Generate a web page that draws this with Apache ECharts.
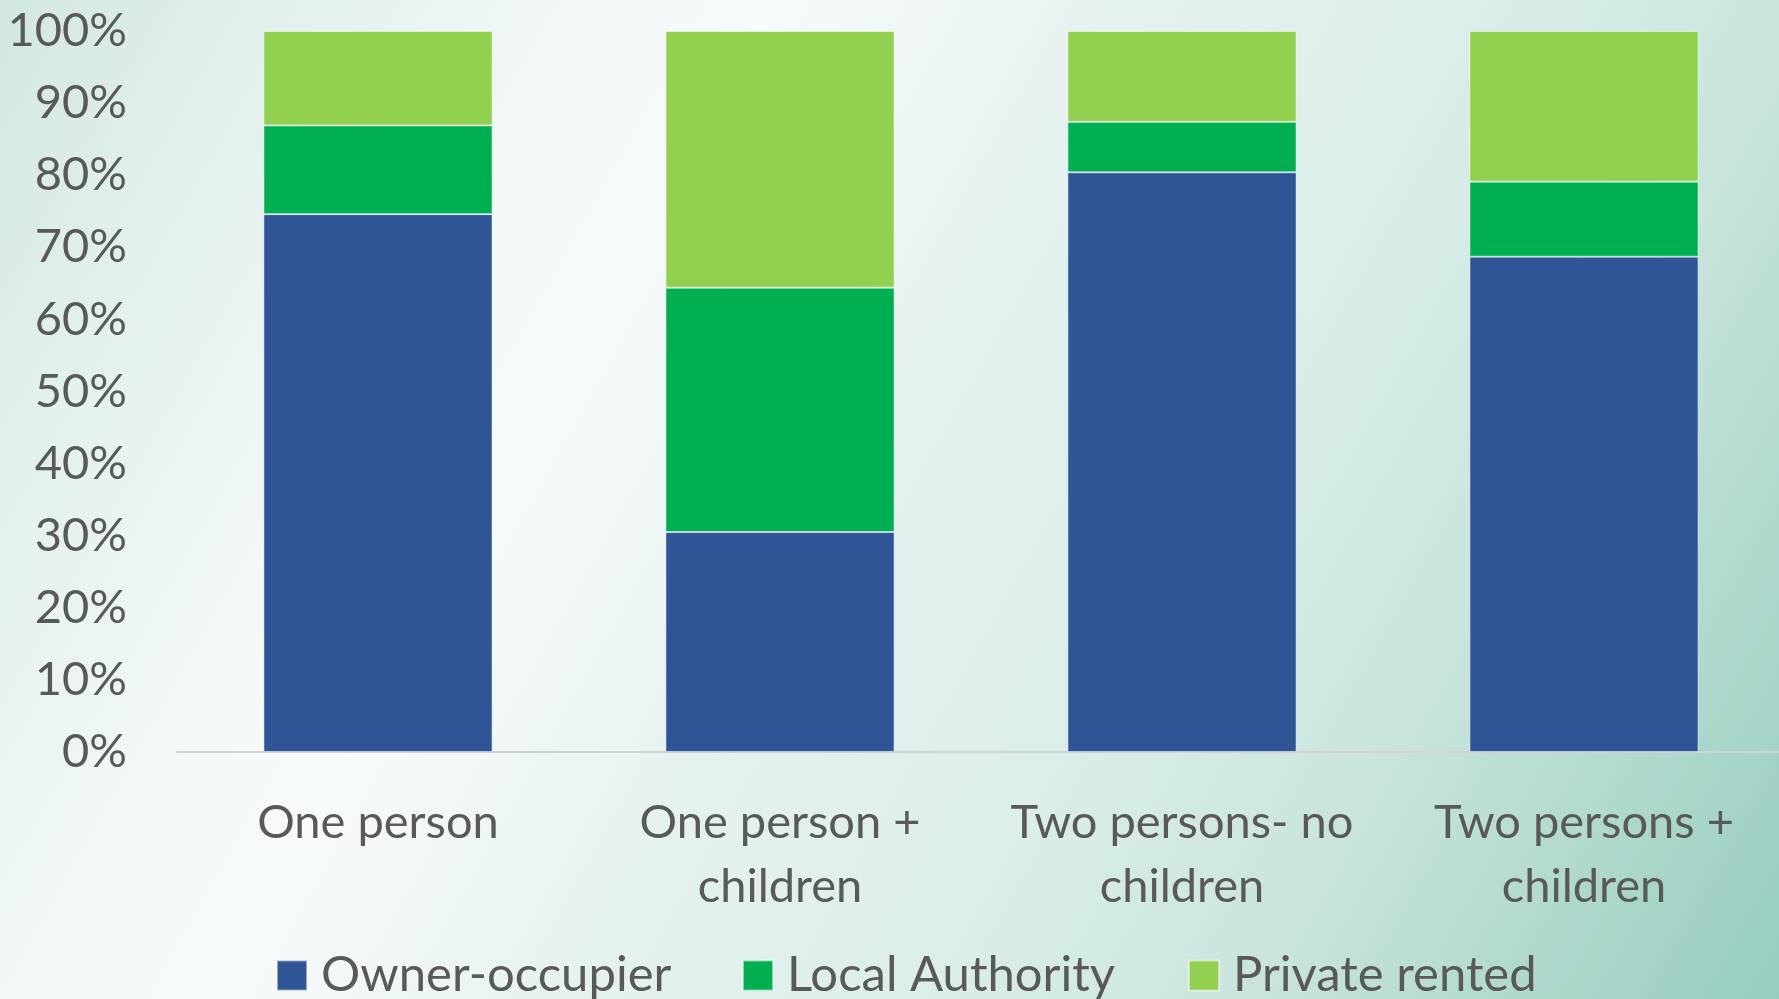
<!DOCTYPE html>
<html>
<head>
<meta charset="utf-8">
<script src="https://cdn.jsdelivr.net/npm/echarts@6/dist/echarts.min.js"></script>
<style>html,body{margin:0;padding:0;}#c{width:1779px;height:999px;}</style>
</head>
<body>
<div id="c"></div>
<script>
var categories = ['One person', 'One person +\nchildren', 'Two persons- no\nchildren', 'Two persons +\nchildren'];
var ownerOccupier = [74.6, 30.5, 80.4, 68.7];
var localAuthority = [12.3, 33.9, 7.0, 10.4];
var privateRented = [13.1, 35.6, 12.6, 20.9];
var seriesNames = ['Owner-occupier', 'Local Authority', 'Private rented'];
var yTicks = [0, 10, 20, 30, 40, 50, 60, 70, 80, 90, 100];

var FONT = 'Lato';
var TXT = '#595959';
var colors = ['#2F5597', '#00B050', '#92D050'];
var chart = echarts.init(document.getElementById('c'));

function legendAt(name, left) {
  return {
    data: [name], left: left, top: 946, itemWidth: 30, itemHeight: 30, itemGap: 0,
    icon: 'rect',
    textStyle: { fontFamily: FONT, fontSize: 49, color: TXT, padding: [0, 0, 0, 9] }
  };
}

var bgGrad = new echarts.graphic.LinearGradient(0, 0, 1, 1, [
  { offset: 0, color: '#d2e7e1' },
  { offset: 0.1, color: '#e0efec' },
  { offset: 0.25, color: '#f3f8f8' },
  { offset: 0.33, color: '#f8fbfb' },
  { offset: 0.5, color: '#e4f1ee' },
  { offset: 0.64, color: '#dbeee9' },
  { offset: 0.78, color: '#c8e4dc' },
  { offset: 1, color: '#96cdbf' }
]);

chart.setOption({
  backgroundColor: bgGrad,
  color: colors,
  animation: false,
  grid: { left: 177, width: 1608, top: 31, bottom: 247, outerBoundsMode: 'none', containLabel: false },
  legend: [legendAt(seriesNames[0], 271), legendAt(seriesNames[1], 737), legendAt(seriesNames[2], 1183)],
  xAxis: {
    type: 'category', data: categories,
    axisLine: { lineStyle: { color: '#d0d3d4', width: 2 } },
    axisTick: { show: false },
    axisLabel: { fontFamily: FONT, fontSize: 47, color: TXT, lineHeight: 64, margin: 39, interval: 0 }
  },
  yAxis: {
    type: 'value', min: yTicks[0], max: yTicks[yTicks.length - 1], interval: 10,
    splitLine: { show: false },
    axisLine: { show: false }, axisTick: { show: false },
    axisLabel: { fontFamily: FONT, fontSize: 47, color: TXT, margin: 50, formatter: '{value}%' }
  },
  series: [
    { name: seriesNames[0], type: 'bar', stack: 't', data: ownerOccupier, barWidth: '57%',
      itemStyle: { borderColor: 'rgba(255,255,255,0.5)', borderWidth: 1 } },
    { name: seriesNames[1], type: 'bar', stack: 't', data: localAuthority, barWidth: '57%',
      itemStyle: { borderColor: 'rgba(255,255,255,0.5)', borderWidth: 1 } },
    { name: seriesNames[2], type: 'bar', stack: 't', data: privateRented, barWidth: '57%',
      itemStyle: { borderColor: 'rgba(255,255,255,0.5)', borderWidth: 1 } }
  ]
});
</script>
</body>
</html>
